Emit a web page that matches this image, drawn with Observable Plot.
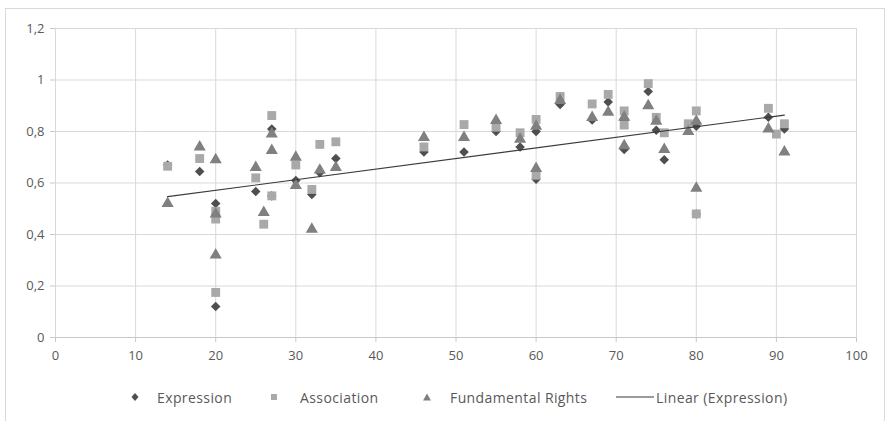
<!DOCTYPE html>
<html><head><meta charset="utf-8">
<script src="https://cdn.jsdelivr.net/npm/d3@7"></script>
<script src="https://cdn.jsdelivr.net/npm/@observablehq/plot@0.6"></script>
<style>
html,body{margin:0;padding:0;background:#fff;}
#wrap{position:relative;width:889px;height:421px;overflow:hidden;font-family:"Open Sans",sans-serif;}
#frame{position:absolute;left:5px;top:8px;width:880px;height:420px;border:1px solid #d9d9d9;box-sizing:border-box;}
#chart{position:absolute;left:0;top:0;}
#legend{position:absolute;top:387px;left:0;width:889px;height:20px;font-size:14px;letter-spacing:0.4px;color:#595959;}
#legend .it{position:absolute;top:0;display:flex;align-items:center;height:20px;white-space:nowrap;}
</style></head>
<body><div id="wrap"><div id="frame"></div><div id="chart"></div><div id="legend"></div></div>
<script>
const exprX = [14,18,20,20,25,27,27,30,32,33,35,46,51,55,58,60,60,63,67,69,71,71,74,75,76,80,80,89,91];
const exprY = [0.67,0.645,0.52,0.12,0.567,0.81,0.55,0.61,0.555,0.64,0.695,0.72,0.72,0.80,0.74,0.80,0.615,0.905,0.845,0.915,0.845,0.73,0.955,0.805,0.69,0.82,0.48,0.855,0.81];
const assocX = [14,18,20,20,20,25,26,27,27,30,32,33,35,46,51,55,58,60,60,63,67,69,71,71,74,75,76,79,80,80,89,90,91];
const assocY = [0.665,0.695,0.49,0.46,0.175,0.62,0.44,0.862,0.55,0.67,0.575,0.75,0.76,0.74,0.827,0.817,0.795,0.847,0.63,0.936,0.907,0.944,0.88,0.825,0.986,0.855,0.795,0.83,0.88,0.48,0.89,0.79,0.83];
const fundX = [14,18,20,20,20,25,26,27,27,30,30,32,33,35,46,51,55,58,60,60,63,67,69,71,71,74,75,76,79,80,80,89,91];
const fundY = [0.52,0.74,0.69,0.48,0.32,0.66,0.485,0.79,0.726,0.70,0.59,0.42,0.65,0.66,0.777,0.777,0.843,0.77,0.82,0.656,0.92,0.854,0.875,0.855,0.745,0.90,0.84,0.73,0.80,0.84,0.58,0.81,0.72];
const xTicks = [0,10,20,30,40,50,60,70,80,90,100];
const yTicks = [0,0.2,0.4,0.6,0.8,1,1.2];
const seriesNames = ["Expression","Association","Fundamental Rights","Linear (Expression)"];

const expr = exprX.map((x,i)=>({x, y: exprY[i]}));
const assoc = assocX.map((x,i)=>({x, y: assocY[i]}));
const fund = fundX.map((x,i)=>({x, y: fundY[i]}));

const cExpr = "#4f4f4f", cAssoc = "#a9a9a9", cFund = "#808080", cLine = "#3a3a3a";
const fmt = d => String(d).replace(".", ",");

const chart = Plot.plot({
  width: 889, height: 372,
  marginLeft: 55, marginRight: 33, marginTop: 28, marginBottom: 35,
  style: {fontFamily: "'Open Sans', sans-serif", fontSize: "13px", color: "#595959", background: "transparent"},
  x: {domain: [0,100]},
  y: {domain: [0,1.2]},
  marks: [
    Plot.gridY(yTicks, {stroke: "#d9d9d9", strokeOpacity: 1}),
    Plot.gridX(xTicks, {stroke: "#d9d9d9", strokeOpacity: 1}),
    Plot.ruleY([0], {stroke: "#c8c8c8"}),
    Plot.axisY(yTicks, {tickFormat: fmt, tickSize: 5, tickPadding: 6, stroke: "#c8c8c8", label: null, fill: "#595959"}),
    Plot.axisX(xTicks, {tickFormat: fmt, tickSize: 5, tickPadding: 8, stroke: "#c8c8c8", label: null, fill: "#595959"}),
    Plot.dot(expr, {x: "x", y: "y", symbol: "diamond2", r: 4.3, fill: cExpr, stroke: "none"}),
    Plot.dot(assoc, {x: "x", y: "y", symbol: "square", r: 5, fill: cAssoc, stroke: "none"}),
    Plot.dot(fund, {x: "x", y: "y", symbol: "triangle", r: 4.5, fill: cFund, stroke: "none"}),
    Plot.linearRegressionY(expr, {x: "x", y: "y", stroke: cLine, strokeWidth: 1.2, ci: 0})
  ]
});
document.getElementById("chart").appendChild(chart);

const leg = document.getElementById("legend");
const items = [
  {x: 129, sym: `<svg width="12" height="12"><path d="M6,2L9.5,6L6,10L2.5,6Z" fill="${cExpr}"/></svg>`, w: 16},
  {x: 268, sym: `<svg width="12" height="12"><rect x="3" y="3" width="6" height="6" fill="${cAssoc}"/></svg>`, w: 20},
  {x: 421, sym: `<svg width="12" height="12"><path d="M6,2.5L10,9.5L2,9.5Z" fill="${cFund}"/></svg>`, w: 17},
  {x: 616, sym: `<svg width="38" height="12"><line x1="0" y1="6" x2="38" y2="6" stroke="${cLine}" stroke-width="1.2"/></svg>`, w: 2}
];
items.forEach((it, i) => {
  const d = document.createElement("div");
  d.className = "it";
  d.style.left = it.x + "px";
  d.innerHTML = it.sym + `<span style="margin-left:${it.w}px">${seriesNames[i]}</span>`;
  leg.appendChild(d);
});
</script></body></html>
